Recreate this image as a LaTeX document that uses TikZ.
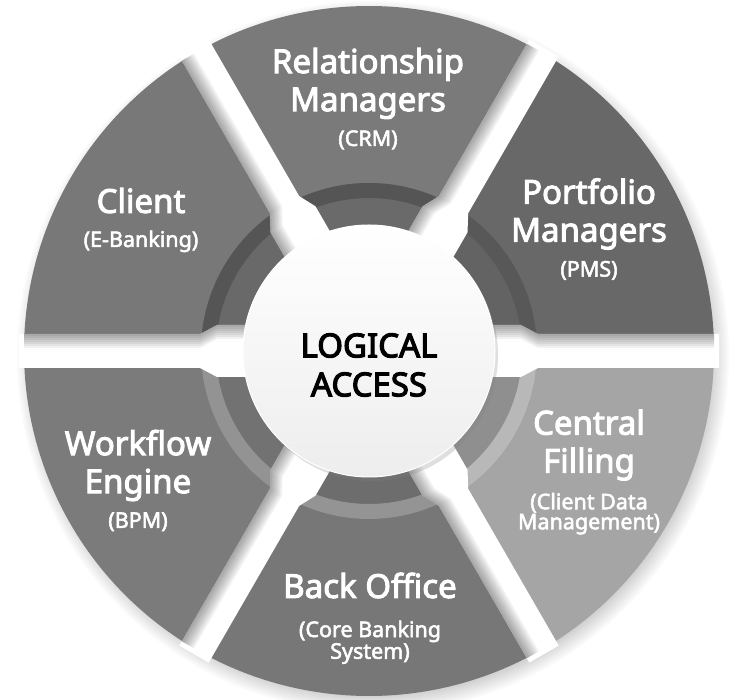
\documentclass[tikz,border=0pt]{standalone}
\usepackage{fontspec}
\setmainfont{Noto Sans}
\newfontfamily\lblfont{Noto Sans}[FakeBold=3]
\newfontfamily\sublblfont{Noto Sans}[FakeBold=2.5]
\newfontfamily\hubfont{Noto Sans}[FakeBold=3.5]
\usetikzlibrary{positioning, shadows}

\definecolor{pmBody}{HTML}{686868}
\definecolor{pmRing}{HTML}{636363}
\definecolor{pmStripe}{HTML}{585858}
\definecolor{rmBody}{HTML}{7A7A7A}
\definecolor{rmRing}{HTML}{6A6A6A}
\definecolor{rmStripe}{HTML}{555555}
\definecolor{clBody}{HTML}{787878}
\definecolor{clRing}{HTML}{696969}
\definecolor{clStripe}{HTML}{555555}
\definecolor{wfBody}{HTML}{7B7B7B}
\definecolor{wfRing}{HTML}{727272}
\definecolor{wfStripe}{HTML}{939393}
\definecolor{boBody}{HTML}{777777}
\definecolor{boRing}{HTML}{6D6D6D}
\definecolor{boStripe}{HTML}{949494}
\definecolor{cfBody}{HTML}{A5A5A5}
\definecolor{cfRing}{HTML}{8F8F8F}
\definecolor{cfStripe}{HTML}{B8B8B8}

\begin{document}
\begin{tikzpicture}[
        x=1pt, y=1pt,
        main/.style={text=white, align=center, inner sep=0pt, font=\lblfont\fontsize{33}{38}\selectfont},
        sub/.style={text=white, align=center, inner sep=0pt, font=\sublblfont\fontsize{21.5}{20}\selectfont},
        hub/.style={circle, minimum size=252pt, inner sep=0pt, top color=white, bottom color=black!7, draw=white, line width=1pt, drop shadow={opacity=0.25, shadow xshift=3pt, shadow yshift=-4pt}},
        hubtext/.style={align=center, inner sep=0pt, font=\hubfont\fontsize{33}{39}\selectfont},
        gapstrip/.style={fill=white},
        gapshade/.style={fill=black, opacity=0.055}
    ]
        \fill[white] (0,0) rectangle (736,699);
        \useasboundingbox (0,0) rectangle (736,699);
        \coordinate (c) at (369,348);

        \begin{scope}[shift={(c)}]
            % Soft shadow under the ring
            \foreach \i in {0,...,9}
                \fill[black, opacity=0.02] (4,-6) circle[radius=338+\i*2];

            % Segments: start angle / body / ring / stripe
            \foreach \a/\body/\ring/\stripe in {0/pmBody/pmRing/pmStripe, 60/rmBody/rmRing/rmStripe, 120/clBody/clRing/clStripe, 180/wfBody/wfRing/wfStripe, 240/boBody/boRing/boStripe, 300/cfBody/cfRing/cfStripe}
            {
                \fill[\body] (\a:345) arc[start angle=\a, end angle=\a+60, radius=345] -- ({\a+60}:126) arc[start angle=\a+60, end angle=\a, radius=126] -- cycle;
                \fill[\ring] (\a:168) arc[start angle=\a, end angle=\a+60, radius=168] -- ({\a+60}:126) arc[start angle=\a+60, end angle=\a, radius=126] -- cycle;
                \fill[\stripe] (\a:168) arc[start angle=\a, end angle=\a+60, radius=168] -- ({\a+60}:153) arc[start angle=\a+60, end angle=\a, radius=153] -- cycle;
            }

            % Gaps between segments: angle / side of the shaded edge
            \foreach \a/\s in {0/1, 60/1, 120/1, 180/-1, 240/-1, 300/-1}
            {
                \fill[gapstrip, rotate=\a] (0,-26) -- (152,-26) -- (169,-17) -- (350,-17) -- (350,17) -- (169,17) -- (152,26) -- (0,26) -- cycle;
                \foreach \w in {2,4,...,14}
                    \fill[gapshade, rotate=\a] (120,\s*26) -- (152,\s*26) -- (169,\s*17) -- (345,\s*17) -- (345,\s*17-\s*\w) -- (169,\s*17-\s*\w) -- (152,\s*26-\s*\w) -- (120,\s*26-\s*\w) -- cycle;
            }
        \end{scope}

        % Hub
        \node[hub] (hub) at (c) {};
        \node[hubtext] (la) at ([yshift=-14pt]hub.center) {LOGICAL\\ACCESS};

        % Labels
        \node[main] (rm) at (368,615.5) {Relationship\\Managers};
        \node[sub, below=11pt of rm] (rm-s) {(CRM)};

        \node[main] (cl) at (141,498.5) {Client};
        \node[sub, below=17pt of cl] (cl-s) {(E-Banking)};

        \node[main] (pm) at (589,485) {Portfolio\\Managers};
        \node[sub, below=11pt of pm] (pm-s) {(PMS)};

        \node[main] (wf) at (138,233.5) {Workflow\\Engine};
        \node[sub, below=11pt of wf] (wf-s) {(BPM)};

        \node[main] (bo) at (370,113.5) {Back Office};
        \node[sub, below=22pt of bo] (bo-s) {(Core Banking\\System)};

        \node[main] (cf) at (589,254) {Central\\Filling};
        \node[sub, below=12pt of cf] (cf-s) {(Client Data\\Management)};

\end{tikzpicture}
\end{document}
